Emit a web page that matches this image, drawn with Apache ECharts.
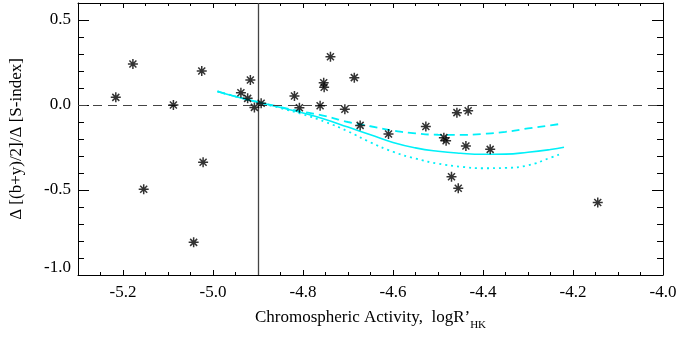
<!DOCTYPE html>
<html><head><meta charset="utf-8">
<script src="https://cdn.jsdelivr.net/npm/echarts@6/dist/echarts.min.js"></script>
<style>html,body{margin:0;padding:0;background:#fff}#c{width:682px;height:341px}</style>
</head><body><div id="c"></div>
<script>
// Observed stars
const xObs = [-5.216,-5.178,-5.154,-5.088,-5.043,-5.025,-5.022,-4.938,-4.923,-4.917,-4.908,-4.893,-4.819,-4.808,-4.762,-4.754,-4.753,-4.739,-4.707,-4.686,-4.673,-4.610,-4.527,-4.487,-4.482,-4.470,-4.458,-4.455,-4.438,-4.433,-4.384,-4.145];
const yObs = [0.045,0.241,-0.496,0.0,-0.808,0.20,-0.337,0.072,0.039,0.147,-0.014,0.01,0.053,-0.016,-0.004,0.131,0.104,0.284,-0.025,0.161,-0.12,-0.171,-0.127,-0.192,-0.21,-0.422,-0.045,-0.49,-0.241,-0.034,-0.261,-0.573];
// Model curves
const xCurve = [-4.99,-4.95,-4.90,-4.85,-4.80,-4.75,-4.70,-4.65,-4.60,-4.55,-4.50,-4.45,-4.40,-4.35,-4.30,-4.25,-4.22];
const ySolid = [0.08,0.05,0.017,-0.015,-0.047,-0.085,-0.13,-0.175,-0.22,-0.252,-0.272,-0.284,-0.29,-0.289,-0.278,-0.262,-0.249];
const xDash = [-4.99,-4.95,-4.90,-4.85,-4.80,-4.75,-4.70,-4.65,-4.60,-4.55,-4.50,-4.45,-4.40,-4.35,-4.30,-4.25,-4.225];
const yDash = [0.08,0.05,0.017,-0.012,-0.04,-0.065,-0.10,-0.125,-0.15,-0.167,-0.175,-0.176,-0.17,-0.158,-0.138,-0.12,-0.11];
const xDot = [-4.99,-4.95,-4.90,-4.85,-4.80,-4.75,-4.70,-4.65,-4.60,-4.55,-4.50,-4.45,-4.40,-4.35,-4.30,-4.25,-4.224];
const yDot = [0.08,0.05,0.015,-0.018,-0.055,-0.10,-0.155,-0.22,-0.275,-0.315,-0.345,-0.363,-0.372,-0.37,-0.355,-0.31,-0.284];
// Ticks
const xMajor = [-5.2,-5.0,-4.8,-4.6,-4.4,-4.2,-4.0];
const yMajor = [-1.0,-0.5,0.0,0.5];
const xRange = [-5.3,-4.0];
const yRange = [-1.0,0.6];
const zeroLevel = 0.0;
const activityMark = -4.9;

const xMinor = [], yMinor = [];
for (let i = 0; i <= 26; i++) xMinor.push(+(xRange[0] + i*0.05).toFixed(2));
for (let i = 0; i <= 16; i++) yMinor.push(+(yRange[0] + i*0.1).toFixed(1));

const FONT = 'Liberation Serif';
const asterisk = 'path://M0 8.5L20 8.5L20 11.5L0 11.5Z M8.5 0L11.5 0L11.5 20L8.5 20Z M1.94 4.06L4.06 1.94L18.06 15.94L15.94 18.06Z M15.94 1.94L18.06 4.06L4.06 18.06L1.94 15.94Z';

function xAx(pos, vals, len, labels, line) {
  return {
    type:'value', position:pos, min:xRange[0], max:xRange[1],
    axisLine:{show:line, onZero:false, lineStyle:{color:'#000', width:1}},
    axisTick:{show:true, inside:true, length:len, customValues:vals, lineStyle:{color:'#000', width:1}},
    axisLabel:{show:labels, customValues:vals, formatter:v=>v.toFixed(1), fontFamily:FONT, fontSize:17, color:'#000', margin:9},
    splitLine:{show:false}
  };
}
function yAx(pos, vals, len, labels, line) {
  return {
    type:'value', position:pos, min:yRange[0], max:yRange[1],
    axisLine:{show:line, onZero:false, lineStyle:{color:'#000', width:1}},
    axisTick:{show:true, inside:true, length:len, customValues:vals, lineStyle:{color:'#000', width:1}},
    axisLabel:{show:labels, customValues:vals,
      formatter:v=> v <= yRange[0] ? '{u|' + v.toFixed(1) + '}' : v.toFixed(1),
      rich:{u:{fontFamily:FONT, fontSize:17, color:'#000', padding:[0,0,14,0]}},
      fontFamily:FONT, fontSize:17, color:'#000', margin:7},
    splitLine:{show:false}
  };
}
const xs = [xAx('bottom', xMajor, 5, true, true), xAx('bottom', xMinor, 3, false, false), xAx('top', xMajor, 5, false, true), xAx('top', xMinor, 3, false, false)];
xs[0].name = '{a|Chromospheric Activity,  logR’}{b|HK}';
xs[0].nameLocation = 'middle';
xs[0].nameGap = 34;
xs[0].nameTextStyle = {rich:{a:{fontFamily:FONT, fontSize:17, color:'#000'}, b:{fontFamily:FONT, fontSize:11, color:'#000', verticalAlign:'bottom', padding:[0,0,-5,0]}}};
const ys = [yAx('left', yMajor, 11, true, true), yAx('left', yMinor, 6, false, false), yAx('right', yMajor, 11, false, true), yAx('right', yMinor, 6, false, false)];
ys[0].name = 'Δ [(b+y)/2]/Δ [S-index]';
ys[0].nameLocation = 'middle';
ys[0].nameRotate = 90;
ys[0].nameGap = 53;
ys[0].nameTextStyle = {fontFamily:FONT, fontSize:17, color:'#000'};

const cyan = '#00f0f8';
const chart = echarts.init(document.getElementById('c'), null, {renderer:'canvas'});
chart.setOption({
  animation:false,
  grid:{left:77, right:19, top:3, bottom:66, containLabel:false},
  xAxis: xs,
  yAxis: ys,
  series:[
    {type:'line', data:xCurve.map((x,i)=>[x,ySolid[i]]), showSymbol:false, smooth:true, lineStyle:{color:cyan, width:1.6}, z:2,
     markLine:{silent:true, symbol:'none', label:{show:false},
       data:[{yAxis:zeroLevel, lineStyle:{color:'#444', width:1.2, type:[9,6]}}, {xAxis:activityMark, lineStyle:{color:'#444', width:1.3, type:'solid'}}]}},
    {type:'line', data:xDash.map((x,i)=>[x,yDash[i]]), showSymbol:false, smooth:true, lineStyle:{color:cyan, width:1.8, type:[8,5]}, z:2},
    {type:'line', data:xDot.map((x,i)=>[x,yDot[i]]), showSymbol:false, smooth:true, lineStyle:{color:cyan, width:1.8, type:[2,4]}, z:2},
    {type:'scatter', data:xObs.map((x,i)=>[x,yObs[i]]), symbol:asterisk, symbolSize:10, itemStyle:{color:'#000'}, z:5}
  ]
});
</script></body></html>
